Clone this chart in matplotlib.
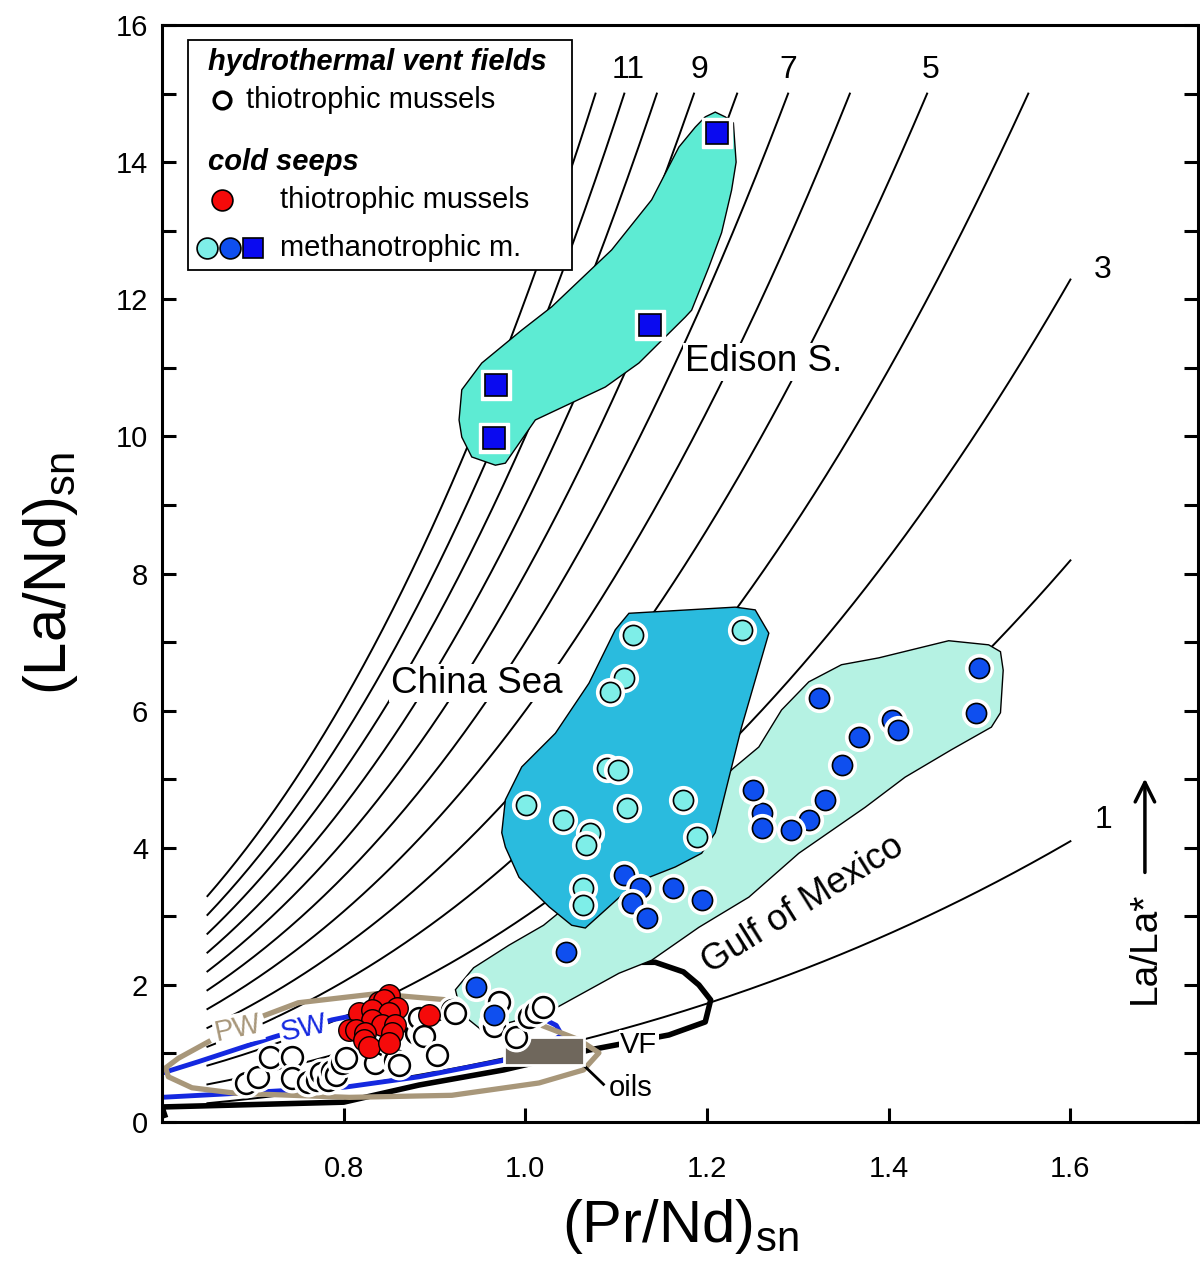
import numpy as np
import matplotlib
matplotlib.use("Agg")
import matplotlib.pyplot as plt
from matplotlib.patches import Polygon, Rectangle

plt.rcParams['font.family'] = ['Liberation Sans', 'DejaVu Sans']
plt.rcParams['mathtext.fontset'] = 'custom'
plt.rcParams['mathtext.rm'] = 'Liberation Sans'

# ---------------- data ----------------
# La/La* isolines: (La/Nd)sn = k * (Pr/Nd)sn^3
la_star_values = [1, 2, 3, 4, 5, 6, 7, 8, 9, 10, 11, 12]
iso_labels = ["1", "3", "5", "7", "9", "11"]

# Edison Seamount (methanotrophic, squares)
edison_x = [1.211, 1.137, 0.968, 0.966]
edison_y = [14.43, 11.62, 10.75, 9.98]

# China Sea (methanotrophic, light cyan)
china_x = [1.118, 1.239, 1.109, 1.093, 1.090, 1.102, 1.001, 1.041, 1.112, 1.173,
           1.071, 1.067, 1.189, 1.063, 1.063]
china_y = [7.10, 7.18, 6.48, 6.27, 5.16, 5.13, 4.62, 4.40, 4.58, 4.70,
           4.22, 4.04, 4.16, 3.41, 3.17]

# Gulf of Mexico (methanotrophic, blue circles)
gom_x = [1.109, 1.126, 1.117, 1.134, 1.162, 1.194, 1.499, 1.496, 1.323, 1.404,
         1.410, 1.367, 1.349, 1.330, 1.312, 1.292, 1.261, 1.261, 1.251, 1.045,
         0.946, 0.966]
gom_y = [3.60, 3.41, 3.19, 2.98, 3.41, 3.24, 6.62, 5.97, 6.18, 5.86,
         5.72, 5.62, 5.21, 4.70, 4.40, 4.26, 4.51, 4.29, 4.84, 2.48,
         1.97, 1.56]

# cold seep thiotrophic mussels (red)
seep_thio_x = [0.850, 0.839, 0.844, 0.859, 0.817, 0.831, 0.850, 0.831, 0.806, 0.814,
               0.842, 0.857, 0.824, 0.853, 0.822, 0.828, 0.850, 0.894]
seep_thio_y = [1.85, 1.75, 1.78, 1.66, 1.59, 1.63, 1.59, 1.49, 1.34, 1.34,
               1.41, 1.41, 1.30, 1.30, 1.20, 1.09, 1.15, 1.56]

# hydrothermal vent thiotrophic mussels (open)
vent_x = [0.692, 0.706, 0.719, 0.743, 0.743, 0.761, 0.771, 0.775, 0.783, 0.787,
          0.792, 0.798, 0.802, 0.835, 0.857, 0.861, 0.880, 0.883, 0.888, 0.903,
          0.919, 0.922, 0.964, 0.965, 0.971, 0.990, 1.004, 1.012, 1.019]
vent_y = [0.57, 0.66, 0.95, 0.95, 0.64, 0.58, 0.62, 0.71, 0.61, 0.75,
          0.69, 0.86, 0.93, 0.86, 0.90, 0.83, 1.30, 1.52, 1.26, 0.98,
          1.63, 1.59, 1.44, 1.40, 1.75, 1.24, 1.53, 1.60, 1.68]

# outline fields
edison_poly_x = [1.209, 1.220, 1.229, 1.232, 1.227, 1.216, 1.202, 1.183, 1.176, 1.125,
                 1.088, 1.011, 0.978, 0.967, 0.941, 0.930, 0.927, 0.930, 0.952, 0.996,
                 1.029, 1.095, 1.139, 1.169, 1.187, 1.198]
edison_poly_y = [14.73, 14.66, 14.57, 14.00, 13.59, 12.97, 12.47, 11.84, 11.74, 11.07,
                 10.72, 10.24, 9.61, 9.58, 9.70, 9.99, 10.24, 10.68, 11.07, 11.55,
                 11.89, 12.72, 13.45, 14.22, 14.51, 14.66]

china_poly_x = [1.114, 1.231, 1.253, 1.268, 1.238, 1.216, 1.209, 1.194, 1.165, 1.121,
                1.092, 1.066, 1.051, 1.026, 0.993, 0.978, 0.974, 0.978, 0.996, 1.033,
                1.070, 1.099]
china_poly_y = [7.42, 7.51, 7.47, 7.13, 5.76, 4.59, 4.22, 3.92, 3.72, 3.49,
                3.14, 2.83, 2.87, 3.14, 3.57, 4.01, 4.22, 4.70, 5.18, 5.67,
                6.40, 7.18]

gom_poly_x = [0.923, 0.943, 0.982, 1.020, 1.081, 1.191, 1.229, 1.257, 1.282, 1.312,
              1.348, 1.389, 1.466, 1.510, 1.523, 1.526, 1.523, 1.513, 1.469, 1.418,
              1.374, 1.301, 1.246, 1.191, 1.139, 1.103, 1.029, 0.993, 0.952, 0.938,
              0.927]
gom_poly_y = [1.93, 2.25, 2.58, 2.87, 3.53, 4.70, 5.16, 5.47, 6.01, 6.42,
              6.67, 6.77, 7.02, 6.96, 6.86, 6.59, 5.97, 5.76, 5.43, 5.03,
              4.59, 3.92, 3.28, 2.84, 2.36, 2.17, 1.63, 1.49, 1.34, 1.49,
              1.71]

pw_x = [0.714, 0.750, 0.802, 0.835, 0.916, 0.971, 1.018, 1.059, 1.081, 1.064,
        1.015, 0.919, 0.806, 0.681, 0.633, 0.607, 0.604, 0.618, 0.651]
pw_y = [1.56, 1.74, 1.82, 1.87, 1.78, 1.60, 1.41, 1.20, 1.01, 0.76,
        0.57, 0.39, 0.36, 0.42, 0.50, 0.66, 0.79, 0.93, 1.17]

sw_x = [0.599, 0.640, 0.723, 0.787, 0.802, 0.916, 1.022, 1.034, 1.040, 1.015,
        0.976, 0.883, 0.802, 0.670, 0.599]
sw_y = [0.71, 0.88, 1.24, 1.49, 1.53, 1.59, 1.49, 1.41, 1.27, 1.05,
        0.90, 0.66, 0.51, 0.41, 0.36]

vf_x = [0.603, 0.600, 0.800, 0.883, 0.976, 1.070, 1.158, 1.198, 1.204, 1.191,
        1.174, 1.143, 1.114, 1.081]
vf_y = [0.10, 0.22, 0.29, 0.54, 0.76, 1.05, 1.27, 1.46, 1.78, 2.00,
        2.19, 2.33, 2.33, 2.14]

oils_x = [0.976, 1.064]
oils_y = [0.83, 1.24]

# ---------------- figure ----------------
fig = plt.figure(figsize=(12, 12.63), dpi=100)
ax = fig.add_axes([0.135, 0.1116, 0.863, 0.8686])
ax.set_xlim(0.6, 1.74)
ax.set_ylim(0, 16)

# isolines
for k in la_star_values:
    x_end = min(1.6, (15.0 / k) ** (1 / 3))
    xs = np.linspace(0.65, x_end, 200)
    ax.plot(xs, k * xs ** 3, color='black', lw=1.4, zorder=1)

# label positions of isolines
iso_label_x = [1.636, 1.636, 1.446, 1.289, 1.192, 1.113]
iso_label_y = [4.40, 12.43, 15.34, 15.34, 15.34, 15.34]
for lab, lx, ly in zip(iso_labels, iso_label_x, iso_label_y):
    ax.text(lx, ly, lab, fontsize=23, ha='center', va='center', zorder=6)

# VF, SW, PW outlines
ax.plot(vf_x, vf_y, color='black', lw=4, solid_joinstyle='round', zorder=2)
ax.plot(sw_x, sw_y, color='#1428E0', lw=3.5, solid_joinstyle='round', zorder=2.2)
ax.plot(pw_x, pw_y, color='#A8977A', lw=3.8, solid_joinstyle='round', zorder=2.4)

# fields
ax.add_patch(Polygon(np.column_stack([gom_poly_x, gom_poly_y]), closed=True,
                     facecolor='#B5F2E3', edgecolor='black', lw=1.0, zorder=3))
ax.add_patch(Polygon(np.column_stack([china_poly_x, china_poly_y]), closed=True,
                     facecolor='#2ABBDE', edgecolor='black', lw=1.0, zorder=3.2))
ax.add_patch(Polygon(np.column_stack([edison_poly_x, edison_poly_y]), closed=True,
                     facecolor='#5DEBD3', edgecolor='black', lw=1.0, zorder=3.2))

# oils box
ax.add_patch(Rectangle((oils_x[0], oils_y[0]), oils_x[1] - oils_x[0], oils_y[1] - oils_y[0],
                       facecolor='#6F675C', edgecolor='white', lw=2, zorder=4.5))
ax.plot([oils_x[1], oils_x[1] + 0.022], [oils_y[0], oils_y[0] - 0.28],
        color='black', lw=2, zorder=4.4)


def halo_points(xs, ys, marker, color, size, z, halo=5.5, mew=1.2):
    for x, y in zip(xs, ys):
        ax.plot(x, y, marker=marker, ms=size + halo, mfc='white', mec='white',
                ls='none', zorder=z)
        ax.plot(x, y, marker=marker, ms=size, mfc=color, mec='black', mew=mew,
                ls='none', zorder=z)


halo_points(vent_x, vent_y, 'o', 'white', 15, 5, mew=1.8)
for x, y in zip(seep_thio_x, seep_thio_y):
    ax.plot(x, y, marker='o', ms=15.5, mfc='#F50A0A', mec='black', mew=1.0,
            ls='none', zorder=5.2)
halo_points(china_x, china_y, 'o', '#7EEEE8', 14.5, 5.4)
halo_points(gom_x, gom_y, 'o', '#0F4FEF', 14.5, 5.4)
halo_points(edison_x, edison_y, 's', '#0A0AF0', 15.5, 5.4)

# field labels
white_box = dict(facecolor='white', edgecolor='none', pad=1)
ax.text(0.946, 6.40, 'China Sea', fontsize=26.5, ha='center', va='center',
        bbox=white_box, zorder=2.8)
ax.text(1.262, 11.09, 'Edison S.', fontsize=26.5, ha='center', va='center',
        bbox=white_box, zorder=2.8)
ax.text(1.306, 3.17, 'Gulf of Mexico', fontsize=26, ha='center', va='center',
        rotation=32, rotation_mode='anchor', zorder=6)
ax.text(0.684, 1.36, 'PW', fontsize=21, color='#A8977A', ha='center', va='center',
        rotation=12, rotation_mode='anchor', bbox=white_box, zorder=2.6)
ax.text(0.756, 1.37, 'SW', fontsize=21, color='#1428E0', ha='center', va='center',
        rotation=12, rotation_mode='anchor', bbox=white_box, zorder=2.6)
ax.text(1.125, 1.12, 'VF', fontsize=21, ha='center', va='center',
        bbox=white_box, zorder=4.6)
ax.text(1.116, 0.50, 'oils', fontsize=21, ha='center', va='center', zorder=6)

# La/La* arrow
ax.text(1.682, 2.54, 'La/La*', fontsize=28, rotation=90, ha='center', va='center', zorder=6)
ax.annotate('', xy=(1.682, 5.05), xytext=(1.682, 3.60),
            arrowprops=dict(arrowstyle='->', lw=2.5, color='black', mutation_scale=35),
            zorder=6)

# axes styling
for s in ax.spines.values():
    s.set_linewidth(2.2)
ax.set_xticks([0.8, 1.0, 1.2, 1.4, 1.6])
ax.set_xticklabels(['0.8', '1.0', '1.2', '1.4', '1.6'])
ax.set_yticks(range(0, 17, 2))
ax.set_yticks(range(0, 17, 1), minor=True)
ax.tick_params(axis='both', which='both', direction='in', width=2.2, labelsize=21)
ax.tick_params(axis='y', which='both', right=True, length=10)
ax.tick_params(axis='x', which='major', top=False, length=10, pad=24)
ax.tick_params(axis='y', which='major', pad=10)

ax.set_xlabel(r'(Pr/Nd)$_{\mathregular{sn}}$', fontsize=43, labelpad=10)
ax.set_ylabel(r'(La/Nd)$_{\mathregular{sn}}$', fontsize=43, labelpad=26)

# legend box
T = ax.transAxes
ax.add_patch(Rectangle((0.0251, 0.7767), 0.371, 0.2096, transform=T, facecolor='white',
                       edgecolor='black', lw=1.3, zorder=10))
ax.text(0.0444, 0.9663, 'hydrothermal vent fields', transform=T, fontsize=21,
        fontweight='bold', fontstyle='italic', va='center', zorder=11)
ax.plot(0.0579, 0.9316, 'o', ms=12, mfc='white', mec='black', mew=2.5, transform=T, zorder=11)
ax.text(0.0811, 0.9316, 'thiotrophic mussels', transform=T, fontsize=21, va='center', zorder=11)
ax.text(0.0444, 0.8751, 'cold seeps', transform=T, fontsize=21,
        fontweight='bold', fontstyle='italic', va='center', zorder=11)
ax.plot(0.0579, 0.8405, 'o', ms=15, mfc='#F50A0A', mec='black', mew=1.2, transform=T, zorder=11)
ax.text(0.1139, 0.8405, 'thiotrophic mussels', transform=T, fontsize=21, va='center', zorder=11)
ax.plot(0.0434, 0.7967, 'o', ms=15, mfc='#7EEEE8', mec='black', mew=1.2, transform=T, zorder=11)
ax.plot(0.0656, 0.7967, 'o', ms=15, mfc='#0F4FEF', mec='black', mew=1.2, transform=T, zorder=11)
ax.plot(0.0878, 0.7967, 's', ms=14, mfc='#0A0AF0', mec='black', mew=1.2, transform=T, zorder=11)
ax.text(0.1139, 0.7967, 'methanotrophic m.', transform=T, fontsize=21, va='center', zorder=11)

fig.savefig('out.png', dpi=100)
